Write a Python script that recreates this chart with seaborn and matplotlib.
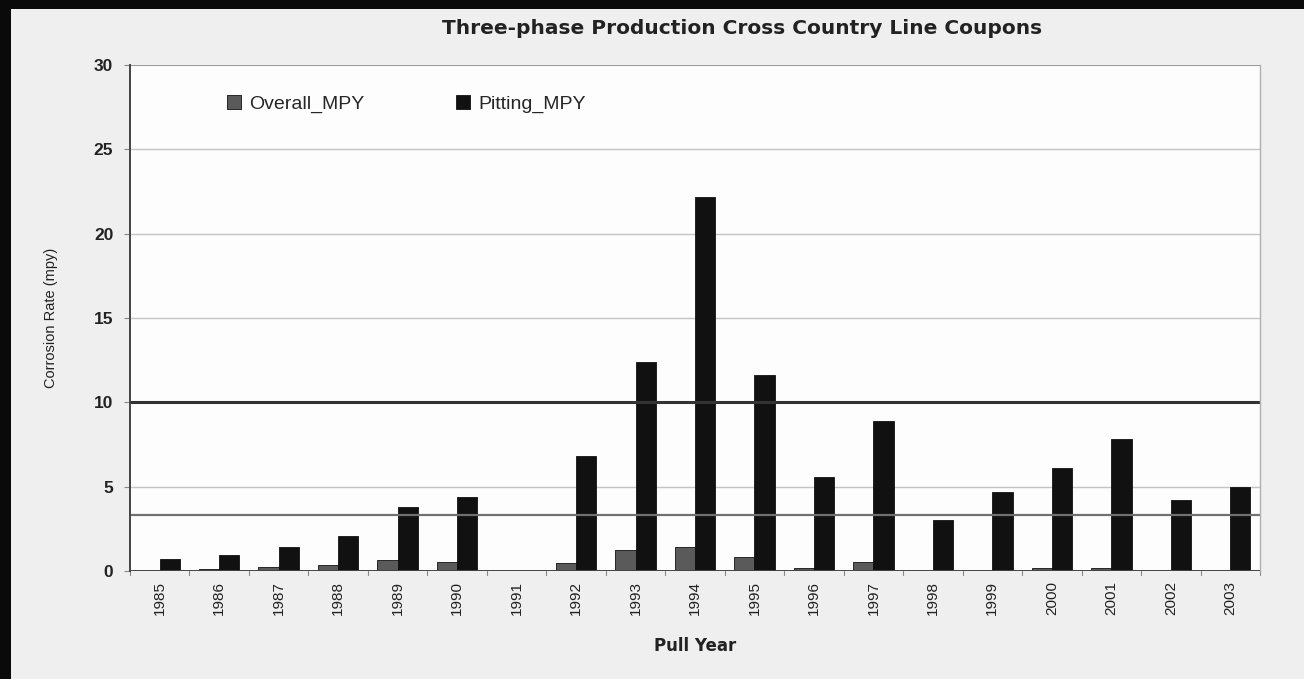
import numpy as np
import pandas as pd
import matplotlib
matplotlib.use("Agg")
import matplotlib.pyplot as plt
import seaborn as sns
from matplotlib.patches import Rectangle

years = [str(y) for y in range(1985, 2004)]
overall_mpy = [0.02, 0.1, 0.25, 0.35, 0.65, 0.55, 0.0, 0.45, 1.25, 1.45,
               0.85, 0.2, 0.55, 0.0, 0.0, 0.2, 0.2, 0.0, 0.0]
pitting_mpy = [0.7, 0.95, 1.4, 2.05, 3.8, 4.4, 0.0, 6.8, 12.4, 22.2,
               11.6, 5.6, 8.9, 3.05, 4.7, 6.1, 7.85, 4.2, 5.0]
ref_lines = [10.0, 3.3]
y_ticks = [0, 5, 10, 15, 20, 25, 30]

df = pd.DataFrame({"year": years * 2,
                   "mpy": overall_mpy + pitting_mpy,
                   "series": ["Overall_MPY"] * len(years) + ["Pitting_MPY"] * len(years)})

sns.set_style("white")
plt.rcParams["font.family"] = ["Liberation Sans", "DejaVu Sans"]

fig = plt.figure(figsize=(13.04, 6.79), dpi=100)
fig.patch.set_facecolor("#efefef")
ax = fig.add_axes([130 / 1304, 1 - 571 / 679, 1130 / 1304, 506 / 679])
ax.set_facecolor("#fdfdfd")

sns.barplot(data=df, x="year", y="mpy", hue="series", order=years,
            palette=["#5a5a5a", "#111111"], width=0.68, ax=ax,
            edgecolor="#111111", linewidth=0.6, errorbar=None)

for y in [5, 15, 20, 25]:
    ax.axhline(y, color="#c4c4c4", lw=1.0, zorder=0)
ax.axhline(30, color="#9a9a9a", lw=1.5, zorder=0)
ax.axhline(ref_lines[0], color="#333333", lw=2.2, zorder=1)
ax.axhline(ref_lines[1], color="#707070", lw=1.6, zorder=1)

ax.set_ylim(0, 30)
ax.set_xlim(-0.5, len(years) - 0.5)
ax.set_yticks(y_ticks)
ax.set_yticklabels([str(v) for v in y_ticks], fontsize=12.5, fontweight="bold", color="#222222")
ax.set_xticks(range(len(years)))
ax.set_xticklabels(years, rotation=90, fontsize=11, color="#222222")
ax.tick_params(axis="x", length=0, pad=7)
ax.tick_params(axis="y", length=4, width=0.8, color="#888888", pad=8, left=True)
for i in range(len(years) + 1):
    ax.plot([i - 0.5, i - 0.5], [0, -0.25], color="#888888", lw=0.8, clip_on=False)

for side in ["top", "bottom"]:
    ax.spines[side].set_visible(False)
ax.spines["left"].set_color("#444444")
ax.spines["left"].set_linewidth(1.4)
ax.spines["right"].set_color("#b0b0b0")
ax.spines["right"].set_linewidth(1.0)
ax.axhline(0, color="#444444", lw=1.4, zorder=3)

ax.set_xlabel("Pull Year", fontsize=12, fontweight="bold", family="DejaVu Sans",
              color="#222222", labelpad=16)
ax.set_ylabel("Corrosion Rate (mpy)", fontsize=10.5, labelpad=26, color="#222222")

leg = ax.legend(loc="upper left", bbox_to_anchor=(0.07, 0.975), ncol=2, frameon=False,
                fontsize=14, handlelength=0.75, handleheight=0.75, columnspacing=4.7,
                handletextpad=0.4)

fig.text(0.569, 0.958, "Three-phase Production Cross Country Line Coupons",
         ha="center", va="center", fontsize=14.5, fontweight="bold",
         family="DejaVu Sans", color="#222222")

# dark scan border on the left and top
fig.add_artist(Rectangle((0, 0), 11 / 1304, 1, transform=fig.transFigure,
                         facecolor="#0a0a0a", edgecolor="none"))
fig.add_artist(Rectangle((0, 1 - 9 / 679), 1, 9 / 679, transform=fig.transFigure,
                         facecolor="#0a0a0a", edgecolor="none"))

fig.savefig("out.png", dpi=100, facecolor=fig.get_facecolor())
